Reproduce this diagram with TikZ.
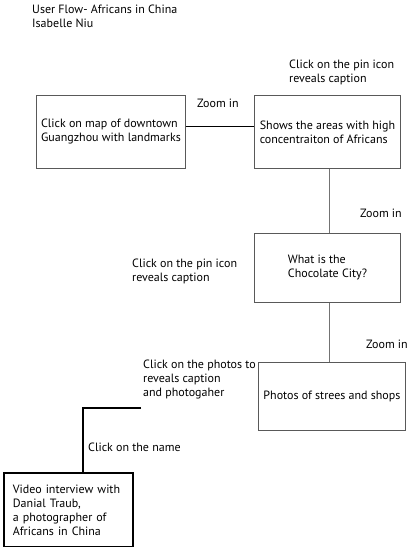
\documentclass[tikz,border=0pt]{standalone}
\usepackage{fontspec}
\setmainfont{PT Sans}
\usetikzlibrary{positioning}

\begin{document}
\begin{tikzpicture}[
  x=1pt, y=-1pt,
  every node/.style={font=\fontsize{12}{14}\selectfont},
  box/.style={draw=black!65, line width=0.9pt, align=left, inner sep=0pt,
              anchor=north west},
  endbox/.style={draw=black, line width=1.8pt, align=left, inner sep=0pt,
              anchor=north west},
  note/.style={anchor=base west, align=left, inner sep=0pt},
  thinline/.style={draw=black!55, line width=0.8pt},
  thickline/.style={draw=black, line width=1.8pt}
]
\useasboundingbox (0,0) rectangle (408,547);

% title (base = last line)
\node[note] (title) at (32,27) {User Flow- Africans in China\\Isabelle Niu};

% boxes
\node[box, minimum width=149pt, minimum height=73pt] (map) at (36,95)
  {Click on map of downtown\\Guangzhou with landmarks};
\node[box, minimum width=146pt, minimum height=73pt] (areas) at (254,95)
  {Shows the areas with high\\concentraiton of Africans};
\node[box, minimum width=146pt, minimum height=69pt] (city) at (254,233)
  {What is the\\Chocolate City?};
\node[box, minimum width=147pt, minimum height=68pt] (photos) at (258,362)
  {Photos of strees and shops};
\node[endbox, minimum width=129pt, minimum height=74pt,
      text width=129pt] (video) at (3,472)
  {\hspace*{9pt}Video interview with\\\hspace*{9pt}Danial Traub,\\
   \hspace*{9pt}a photographer of\\\hspace*{9pt}Africans in China};

% labels
\node[note] (pintop) at (289,82) {Click on the pin icon\\reveals caption};
\node[note] (zoomA) at (197,107) {Zoom in};
\node[note] (zoomB) at (360,217) {Zoom in};
\node[note] (pinmid) at (132,281) {Click on the pin icon\\reveals caption};
\node[note] (zoomC) at (366,348) {Zoom in};
\node[note] (photolbl) at (143,396)
  {Click on the photos to\\reveals caption\\and photogaher};
\node[note] (namelbl) at (88,451) {Click on the name};

% connectors
\draw[thickline] ([yshift=5.5pt]map.east) -- ([yshift=5.5pt]areas.west);
\draw[thinline] ([xshift=2pt]areas.south) -- ([xshift=2pt]city.north);
\draw[thinline] ([xshift=2pt]city.south) -- ([xshift=2pt]city.south |- photos.north);
\coordinate (lstart) at (141,408);
\draw[thickline] (lstart) -| ([xshift=14.5pt]video.north);
\end{tikzpicture}
\end{document}
